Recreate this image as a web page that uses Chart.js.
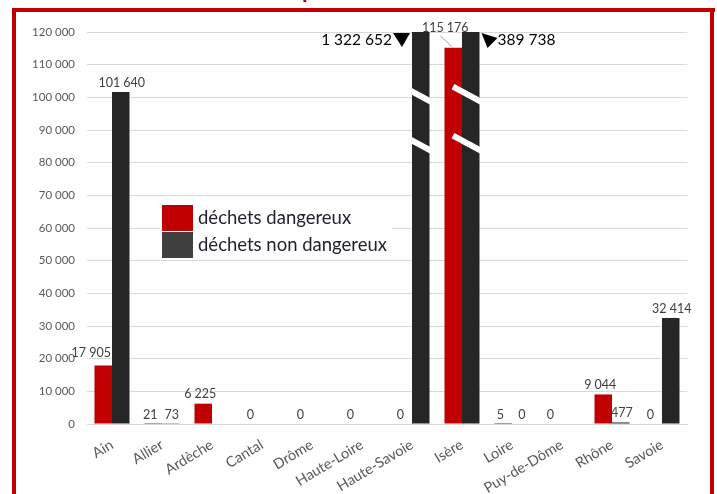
<!DOCTYPE html>
<html>
<head>
<meta charset="utf-8">
<script src="https://cdn.jsdelivr.net/npm/chart.js@4"></script>
<style>
  html, body { margin: 0; padding: 0; background: #fff; overflow: hidden; }
  #wrap { position: relative; width: 717px; height: 494px; }
  #titre { position: absolute; left: 276px; top: -25px; font: bold 23px Lato, sans-serif; color: #c00000; white-space: nowrap; }
  .cadre { position: absolute; background: #c00000; }
  canvas { position: absolute; left: 0; top: 0; }
</style>
</head>
<body>
<div id="wrap">
  <canvas id="graph1" width="717" height="494"></canvas>
  <div id="titre">Importations</div>
  <div class="cadre" style="left:12px; top:8px; width:703px; height:4px;"></div>
  <div class="cadre" style="left:12px; top:8px; width:4px; height:486px;"></div>
  <div class="cadre" style="left:710px; top:8px; width:4px; height:486px;"></div>
</div>
<script>
const categories = ['Ain', 'Allier', 'Ardèche', 'Cantal', 'Drôme', 'Haute-Loire', 'Haute-Savoie', 'Isère', 'Loire', 'Puy-de-Dôme', 'Rhône', 'Savoie'];
const dangereux = [17905, 21, 6225, 0, 0, 0, 0, 115176, 5, 0, 9044, 0];
const nonDangereux = [101640, 73, null, null, null, null, 1322652, 389738, 0, null, 477, 32414];
const yMax = 120000;
const yStep = 10000;
const seriesNames = ['déchets dangereux', 'déchets non dangereux'];

const rouge = '#c00000';
const noir = '#262626';
const gris = '#404040';

function fmt(v) {
  return String(v).replace(/\B(?=(\d{3})+(?!\d))/g, ' ');
}

// etiquettes de valeurs, barres coupees, legende
const etiquettes = {
  id: 'etiquettes',
  afterDatasetsDraw(chart) {
    const ctx = chart.ctx;
    const area = chart.chartArea;
    const y = chart.scales.y;
    let overflowCount = 0;
    ctx.save();
    chart.data.datasets.forEach((ds, di) => {
      const meta = chart.getDatasetMeta(di);
      meta.data.forEach((el, i) => {
        const v = ds.data[i];
        if (v === null || v === undefined) return;
        const half = el.width / 2;
        if (v > yMax) {
          // marques de coupure
          ctx.strokeStyle = '#fff';
          ctx.lineWidth = 6;
          [100500, 85500].forEach(b => {
            const by = y.getPixelForValue(b);
            ctx.beginPath();
            ctx.moveTo(el.x - half - 9, by - 9);
            ctx.lineTo(el.x + half + 5, by + 8);
            ctx.stroke();
          });
          // etiquette avec triangle
          ctx.fillStyle = '#000';
          ctx.font = '15.5px Lato, sans-serif';
          ctx.textBaseline = 'middle';
          const ty = area.top + 8;
          ctx.beginPath();
          if (overflowCount === 0) {
            const tx = el.x - half - 2;
            ctx.moveTo(tx - 17, ty - 7);
            ctx.lineTo(tx, ty - 7);
            ctx.lineTo(tx - 8, ty + 7);
            ctx.closePath();
            ctx.fill();
            ctx.textAlign = 'right';
            ctx.fillText(fmt(v), tx - 18, ty);
          } else {
            const tx = el.x + half + 2;
            ctx.moveTo(tx, ty - 7);
            ctx.lineTo(tx + 16, ty - 2);
            ctx.lineTo(tx + 6, ty + 8);
            ctx.closePath();
            ctx.fill();
            ctx.textAlign = 'left';
            ctx.fillText(fmt(v), tx + 16, ty);
          }
          overflowCount++;
          return;
        }
        ctx.fillStyle = gris;
        ctx.font = '12.5px Lato, sans-serif';
        ctx.textAlign = 'center';
        ctx.textBaseline = 'bottom';
        const txt = fmt(v);
        const w = ctx.measureText(txt).width;
        const other = chart.getDatasetMeta(1 - di).data[i];
        const otherV = chart.data.datasets[1 - di].data[i];
        if (el.y - 16 < area.top) {
          // etiquette deplacee avec trait de rappel
          const lx = el.x - 8;
          ctx.fillText(txt, lx, area.top + 2);
          ctx.strokeStyle = '#a6a6a6';
          ctx.lineWidth = 1;
          ctx.beginPath();
          ctx.moveTo(lx - 5, area.top + 4);
          ctx.lineTo(el.x - 1, el.y - 1);
          ctx.stroke();
        } else if (di === 0 && otherV !== null && other.y < el.y - 20 && w / 2 > half) {
          // barre voisine plus haute : etiquette poussee a gauche
          ctx.textAlign = 'right';
          ctx.fillText(txt, el.x + half - 1, el.y - 6);
        } else if (di === 0) {
          ctx.fillText(txt, el.x - 3, el.y - 3);
        } else {
          ctx.fillText(txt, el.x + 1, el.y - 3);
        }
      });
    });

    // legende dans le graphique
    const lx = 162, ly = 205;
    ctx.fillStyle = '#fff';
    ctx.fillRect(lx - 2, ly - 2, 232, 56);
    const colors = [rouge, gris];
    seriesNames.forEach((name, k) => {
      ctx.fillStyle = colors[k];
      ctx.fillRect(lx, ly + k * 27, 31, 26);
      ctx.fillStyle = '#1f1f2f';
      ctx.font = '18.5px Lato, sans-serif';
      ctx.textAlign = 'left';
      ctx.textBaseline = 'middle';
      ctx.fillText(name, lx + 36, ly + k * 27 + 13);
    });
    ctx.restore();
  }
};

const chartData1 = {
  labels: categories,
  datasets: [
    {
      label: seriesNames[0],
      data: dangereux,
      backgroundColor: rouge,
    },
    {
      label: seriesNames[1],
      data: nonDangereux,
      backgroundColor: noir,
    },
  ],
};

const chartConfig = {
  type: 'bar',
  data: chartData1,
  options: {
    responsive: false,
    animation: false,
    categoryPercentage: 0.7,
    barPercentage: 1.0,
    layout: {
      padding: { top: 32, right: 30, left: 0, bottom: 0 },
    },
    plugins: {
      legend: { display: false },
      tooltip: { enabled: false },
    },
    scales: {
      x: {
        grid: { display: false, drawTicks: false },
        border: { color: '#d9d9d9' },
        ticks: {
          color: '#595959',
          font: { family: 'Lato, sans-serif', size: 14.5 },
          minRotation: 31,
          maxRotation: 31,
          autoSkip: false,
          padding: 12,
        },
        afterFit(axis) { axis.height = 70; },
      },
      y: {
        min: 0,
        max: yMax,
        grid: { color: '#d9d9d9', drawTicks: false },
        border: { display: false },
        ticks: {
          stepSize: yStep,
          color: '#595959',
          padding: 12,
          font: { family: 'Lato, sans-serif', size: 11.5 },
          callback: v => fmt(v),
        },
        afterFit(axis) { axis.width = 87; },
      },
    },
  },
  plugins: [etiquettes],
};

const graph1 = new Chart(document.getElementById('graph1'), chartConfig);
</script>
</body>
</html>
